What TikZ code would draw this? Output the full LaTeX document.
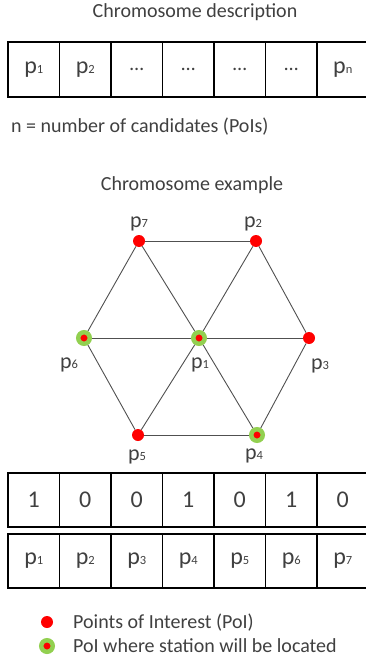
\documentclass[tikz,border=0pt]{standalone}
\usepackage{fontspec}
\setmainfont{Carlito}
\usetikzlibrary{positioning}
\definecolor{textColor}{RGB}{64,64,64}
\definecolor{poiRed}{RGB}{255,0,0}
\definecolor{stationGreen}{RGB}{146,208,80}
\definecolor{edgeGray}{RGB}{80,80,80}
\newcommand{\pid}[1]{p{\fontsize{12.5}{12.5}\selectfont #1}}
\tikzstyle{caption} = [font=\fontsize{20}{20}\selectfont, text=textColor, inner sep=0pt]
\tikzstyle{cell} = [rectangle, draw=black, line width=1.5pt, minimum width=51.5pt, minimum height=55pt, inner sep=0pt, outer sep=0pt, text=textColor, font=\fontsize{24}{24}\selectfont]
\tikzstyle{bit} = [cell, minimum height=54pt]
\tikzstyle{poi} = [circle, fill=poiRed, minimum size=12pt, inner sep=0pt]
\tikzstyle{station} = [circle, fill=poiRed, draw=stationGreen, line width=4.5pt, minimum size=11.5pt, inner sep=0pt]
\tikzstyle{plabel} = [font=\fontsize{22}{22}\selectfont, text=textColor, inner sep=0pt]
\tikzstyle{edge} = [edgeGray, line width=0.9pt]

\begin{document}
\begin{tikzpicture}[x=1pt, y=-1pt, node distance=0pt]
\useasboundingbox (0,0) rectangle (366,660);

% chromosome description
\node (descTitle) [caption, anchor=base] at (195,18) {Chromosome description};
\node (d1) [cell] at (33.75,69.5) {\pid{1}};
\node (d2) [cell, right=of d1] {\pid{2}};
\node (d3) [cell, right=of d2] {\fontsize{20}{20}\selectfont …};
\node (d4) [cell, right=of d3] {\fontsize{20}{20}\selectfont …};
\node (d5) [cell, right=of d4] {\fontsize{20}{20}\selectfont …};
\node (d6) [cell, right=of d5] {\fontsize{20}{20}\selectfont …};
\node (d7) [cell, right=of d6] {\pid{n}};
\node (descNote) [caption, anchor=base west] at (11,133) {n = number of candidates (PoIs)};

% chromosome example
\node (exTitle) [caption, anchor=base] at (192,191) {Chromosome example};
\node (p7) [poi, label={[plabel, label distance=4pt]above:\pid{7}}] at (139,241) {};
\node (p2) [poi, label={[plabel, label distance=4pt, xshift=-3pt]above:\pid{2}}] at (256,241) {};
\node (p6) [station, label={[plabel, label distance=12pt, xshift=-15pt]below:\pid{6}}] at (84,338) {};
\node (p1) [station, label={[plabel, label distance=12pt, xshift=1pt]below:\pid{1}}] at (199,338) {};
\node (p3) [poi, label={[plabel, label distance=14pt, xshift=11pt]below:\pid{3}}] at (309,338) {};
\node (p5) [poi, label={[plabel, label distance=8pt, xshift=-1pt]below:\pid{5}}] at (138,435) {};
\node (p4) [station, label={[plabel, label distance=6pt, xshift=-3pt]below:\pid{4}}] at (257,435) {};

\draw [edge] (p7) -- (p2);
\draw [edge] (p7) -- (p6);
\draw [edge] (p7) -- (p1);
\draw [edge] (p2) -- (p1);
\draw [edge] (p2) -- (p3);
\draw [edge] (p6) -- (p1);
\draw [edge] (p1) -- (p3);
\draw [edge] (p6) -- (p5);
\draw [edge] (p5) -- (p1);
\draw [edge] (p1) -- (p4);
\draw [edge] (p3) -- (p4);
\draw [edge] (p5) -- (p4);

% encoded chromosome
\node (b1) [bit] at (33.75,500) {1};
\node (b2) [bit, right=of b1] {0};
\node (b3) [bit, right=of b2] {0};
\node (b4) [bit, right=of b3] {1};
\node (b5) [bit, right=of b4] {0};
\node (b6) [bit, right=of b5] {1};
\node (b7) [bit, right=of b6] {0};

\node (c1) [bit] at (33.75,561) {\pid{1}};
\node (c2) [bit, right=of c1] {\pid{2}};
\node (c3) [bit, right=of c2] {\pid{3}};
\node (c4) [bit, right=of c3] {\pid{4}};
\node (c5) [bit, right=of c4] {\pid{5}};
\node (c6) [bit, right=of c5] {\pid{6}};
\node (c7) [bit, right=of c6] {\pid{7}};

% legend
\node (legPoi) [poi] at (47,622) {};
\node (legPoiText) [caption, anchor=base west] at (73,628.5) {Points of Interest (PoI)};
\node (legStation) [station] at (47,646) {};
\node (legStationText) [caption, anchor=base west] at (73,652.5) {PoI where station will be located};
\end{tikzpicture}
\end{document}
